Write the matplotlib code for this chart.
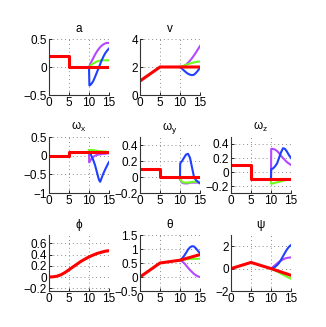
import matplotlib
matplotlib.use("Agg")
import matplotlib.pyplot as plt
from matplotlib.ticker import FuncFormatter

plt.rcParams['font.family'] = ['Liberation Sans', 'DejaVu Sans']
plt.rcParams['mathtext.default'] = 'regular'
plt.rcParams['font.size'] = 8.5

# colours of the four runs
c_red = '#ff0000'
c_purple = '#b548ff'
c_green = '#6cff1a'
c_blue = '#2040ff'

# common time grid for the branches that start at t = 10
tb = [10, 10.5, 11, 11.5, 12, 12.5, 13, 13.5, 14, 14.5, 15]

# ---- a ----
a_t = [0, 5, 5, 15]
a_red = [0.2, 0.2, 0, 0]
a_purple = [0, 0.08, 0.15, 0.22, 0.28, 0.33, 0.37, 0.40, 0.42, 0.43, 0.43]
a_green = [0, 0.035, 0.06, 0.08, 0.10, 0.11, 0.12, 0.12, 0.12, 0.12, 0.12]
a_blue_t = [10, 10.1, 10.5, 11, 11.5, 12, 12.5, 13, 13.5, 14, 14.5, 15]
a_blue = [0, -0.33, -0.31, -0.26, -0.18, -0.09, 0.0, 0.09, 0.17, 0.24, 0.29, 0.33]

# ---- v ----
v_t = [0, 5, 15]
v_red = [1, 2, 2]
v_purple = [2, 2.02, 2.08, 2.17, 2.3, 2.45, 2.63, 2.83, 3.05, 3.27, 3.5]
v_green = [2, 2.05, 2.1, 2.15, 2.2, 2.25, 2.29, 2.33, 2.36, 2.38, 2.4]
v_blue = [2, 1.88, 1.75, 1.62, 1.52, 1.45, 1.42, 1.45, 1.58, 1.75, 1.95]

# ---- omega x ----
wx_t = [0, 5, 5, 15]
wx_red = [0, 0, 0.1, 0.1]
wx_purple_t = [10, 10.05, 10.5, 11, 11.5, 12, 12.5, 13, 13.5, 14, 14.5, 15]
wx_purple = [0.1, -0.18, -0.1, -0.04, 0.0, 0.02, 0.03, 0.04, 0.05, 0.05, 0.06, 0.06]
wx_green = [0.15, 0.15, 0.15, 0.14, 0.13, 0.12, 0.12, 0.11, 0.11, 0.1, 0.1]
wx_blue_t = [10, 10.5, 11, 11.5, 12, 12.5, 12.8, 13.5, 14, 14.5, 15]
wx_blue = [0.1, 0.02, -0.1, -0.25, -0.45, -0.65, -0.7, -0.5, -0.38, -0.27, -0.17]

# ---- omega y ----
wy_t = [0, 5, 5, 15]
wy_red = [0.1, 0.1, 0, 0]
wy_purple = [-0.03, -0.07, -0.08, -0.08, -0.08, -0.07, -0.07, -0.07, -0.07, -0.07, -0.07]
wy_green = [-0.02, -0.06, -0.07, -0.07, -0.07, -0.07, -0.06, -0.06, -0.06, -0.06, -0.06]
wy_blue_t = [10, 10.05, 10.5, 11, 11.5, 12, 12.5, 13, 13.5, 14, 14.5, 15]
wy_blue = [0, 0.17, 0.2, 0.24, 0.28, 0.29, 0.24, 0.12, 0.0, -0.04, -0.06, -0.08]

# ---- omega z ----
wz_t = [0, 5, 5, 15]
wz_red = [0.1, 0.1, -0.1, -0.1]
wz_purple_t = [10, 10.05, 10.5, 11, 11.5, 12, 12.5, 13, 13.5, 14, 14.5, 15]
wz_purple = [-0.1, 0.33, 0.33, 0.32, 0.3, 0.27, 0.23, 0.2, 0.17, 0.14, 0.12, 0.1]
wz_green_t = [10, 10.05, 11, 12, 13, 14, 15]
wz_green = [-0.1, -0.17, -0.155, -0.14, -0.125, -0.11, -0.1]
wz_blue_t = [10, 10.05, 10.5, 11, 11.5, 12, 12.5, 13, 13.5, 14, 14.5, 15]
wz_blue = [-0.1, 0.04, 0.05, 0.08, 0.12, 0.2, 0.28, 0.34, 0.33, 0.29, 0.24, 0.2]

# ---- phi ----
phi_t = [0, 1, 2, 3, 4, 5, 6, 7, 8, 9, 10, 11, 12, 13, 14, 15]
phi_red = [0, 0.003, 0.015, 0.04, 0.08, 0.13, 0.18, 0.23, 0.28, 0.32, 0.36, 0.39, 0.42, 0.44, 0.46, 0.47]

# ---- theta ----
th_t = [0, 5, 10, 15]
th_red = [0, 0.5, 0.6, 0.8]
th_purple = [0.6, 0.56, 0.5, 0.42, 0.33, 0.25, 0.18, 0.11, 0.06, 0.02, 0.0]
th_green = [0.6, 0.61, 0.62, 0.63, 0.64, 0.645, 0.65, 0.65, 0.65, 0.65, 0.65]
th_blue = [0.6, 0.66, 0.75, 0.86, 0.98, 1.06, 1.1, 1.09, 1.02, 0.93, 0.85]

# ---- psi ----
psi_t = [0, 5, 10, 15]
psi_red = [0, 0.55, 0, -0.6]
psi_purple = [0, 0.15, 0.3, 0.45, 0.6, 0.72, 0.82, 0.9, 0.95, 0.98, 1.0]
psi_green = [0, -0.08, -0.16, -0.25, -0.35, -0.45, -0.55, -0.64, -0.73, -0.82, -0.9]
psi_blue = [0, 0.05, 0.15, 0.3, 0.5, 0.78, 1.1, 1.42, 1.72, 1.95, 2.1]

fig = plt.figure(figsize=(3.26, 3.27), dpi=100)

lefts = [49, 140, 231]
tops = [39, 137, 235]
W, H = 60, 56


def make_ax(row, col):
    l = lefts[col] / 326
    b = 1 - (tops[row] + H) / 327
    return fig.add_axes([l, b, W / 326, H / 327])


def style(ax, title, ylim, yticks):
    ax.set_xlim(0, 15)
    ax.set_xticks([0, 5, 10, 15])
    ax.set_ylim(*ylim)
    ax.set_yticks(yticks)
    ax.yaxis.set_major_formatter(FuncFormatter(lambda v, p: ('%g' % v).replace('-', '\u2212')))
    ax.grid(True, linestyle=(0, (1, 3)), color='#8c8c8c', linewidth=0.7)
    ax.spines['top'].set_visible(False)
    ax.spines['right'].set_visible(False)
    for s in ('left', 'bottom'):
        ax.spines[s].set_color('#333333')
        ax.spines[s].set_linewidth(0.8)
    ax.tick_params(direction='in', length=2, width=0.6, pad=1.5, labelsize=8.5)
    ax.set_title(title, fontsize=8.5, pad=5)
    ax.set_axisbelow(True)


def branches(ax, pt, p, gt, g, bt, b):
    if p is not None:
        ax.plot(pt, p, color=c_purple, lw=1.5)
    if g is not None:
        ax.plot(gt, g, color=c_green, lw=1.5)
    if b is not None:
        ax.plot(bt, b, color=c_blue, lw=1.5)


ax = make_ax(0, 0)
branches(ax, tb, a_purple, tb, a_green, a_blue_t, a_blue)
ax.plot(a_t, a_red, color=c_red, lw=2.2)
style(ax, 'a', (-0.5, 0.5), [-0.5, 0, 0.5])

ax = make_ax(0, 1)
branches(ax, tb, v_purple, tb, v_green, tb, v_blue)
ax.plot(v_t, v_red, color=c_red, lw=2.2)
style(ax, 'v', (0, 4), [0, 2, 4])

ax = make_ax(1, 0)
branches(ax, wx_purple_t, wx_purple, tb, wx_green, wx_blue_t, wx_blue)
ax.plot(wx_t, wx_red, color=c_red, lw=2.2)
style(ax, r'$\omega_x$', (-1, 0.5), [-1, -0.5, 0, 0.5])

ax = make_ax(1, 1)
branches(ax, tb, wy_purple, tb, wy_green, wy_blue_t, wy_blue)
ax.plot(wy_t, wy_red, color=c_red, lw=2.2)
style(ax, r'$\omega_y$', (-0.2, 0.5), [-0.2, 0, 0.2, 0.4])

ax = make_ax(1, 2)
branches(ax, wz_purple_t, wz_purple, wz_green_t, wz_green, wz_blue_t, wz_blue)
ax.plot(wz_t, wz_red, color=c_red, lw=2.2)
style(ax, r'$\omega_z$', (-0.3, 0.5), [-0.2, 0, 0.2, 0.4])

ax = make_ax(2, 0)
ax.plot(phi_t, phi_red, color=c_red, lw=2.2)
style(ax, r'$\phi$', (-0.25, 0.75), [-0.2, 0, 0.2, 0.4, 0.6])

ax = make_ax(2, 1)
branches(ax, tb, th_purple, tb, th_green, tb, th_blue)
ax.plot(th_t, th_red, color=c_red, lw=2.2)
style(ax, r'$\theta$', (-0.5, 1.5), [-0.5, 0, 0.5, 1, 1.5])

ax = make_ax(2, 2)
branches(ax, tb, psi_purple, tb, psi_green, tb, psi_blue)
ax.plot(psi_t, psi_red, color=c_red, lw=2.2)
style(ax, r'$\psi$', (-2, 3), [-2, 0, 2])

fig.savefig('out.png', dpi=100)
